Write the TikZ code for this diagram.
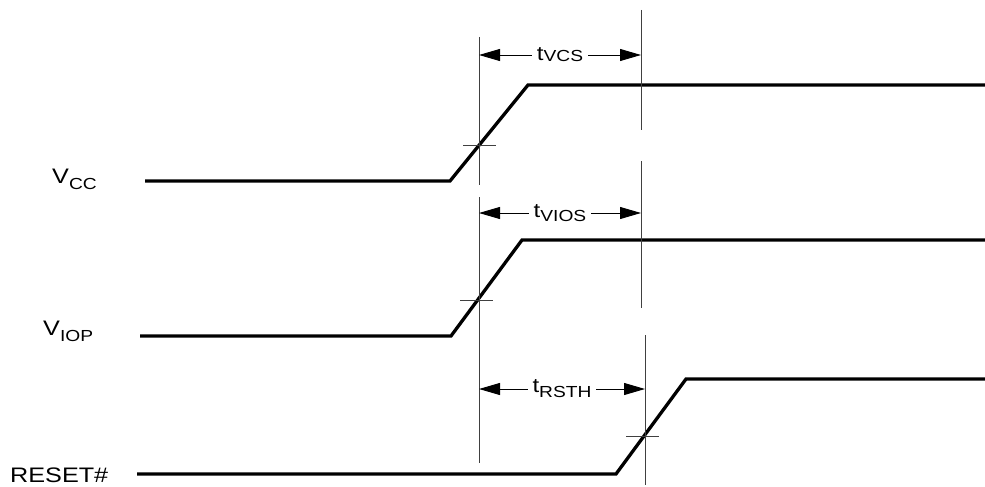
\documentclass[tikz,border=0pt]{standalone}
\usepackage{fontspec}
\setmainfont{Liberation Sans}[FakeStretch=1.2]
\usetikzlibrary{arrows.meta}

% signal name with a lowered, smaller subscript
\newcommand{\tsig}[3][4pt]{#2\raisebox{-#1}{\fontsize{16}{19}\selectfont #3}}

\tikzset{
  wave/.style={line width=3.3pt, line join=miter},
  guide/.style={line width=0.9pt, draw=black!75},
  tick/.style={line width=0.9pt, draw=black!75},
  dim/.style={line width=0.9pt, {Triangle[length=21pt,width=12pt]}-{Triangle[length=21pt,width=12pt]}},
  dimlabel/.style={fill=white, inner xsep=5pt, inner ysep=1pt, font=\fontsize{20}{24}\selectfont},
  signame/.style={anchor=base west, inner sep=0pt, font=\fontsize{21}{25}\selectfont},
}

\begin{document}
\begin{tikzpicture}[x=1pt,y=-1pt]
  \useasboundingbox[fill=white] (0,0) rectangle (985,487);

% signal names
  \node[signame] (vcc)   at (52,183)  {\tsig[6pt]{V}{CC}};
  \node[signame] (viop)  at (43,335)  {\tsig[6pt]{V}{IOP}};
  \node[signame] (reset) at (10,482)  {RESET\#};

% waveforms
  \draw[wave] (145,181) -- (450,181) -- (528,85)  -- (985,85);
  \draw[wave] (140,336) -- (451,336) -- (522,240) -- (985,240);
  \draw[wave] (137,474) -- (616,474) -- (686,379) -- (985,379);

% crossing marks
  \draw[tick] (463,145) -- (496,145);
  \draw[tick] (460,300) -- (493,300);
  \draw[tick] (626,436) -- (659,436);

% guide lines
  \draw[guide] (479,37)  -- (479,185);
  \draw[guide] (479,197) -- (479,463);
  \draw[guide] (641,10)  -- (641,130);
  \draw[guide] (641,161) -- (641,308);
  \draw[guide] (645,335) -- (645,485);

% timing arrows
  \coordinate (vcs1)  at (479,55);  \coordinate (vcs2)  at (641,55);
  \coordinate (vios1) at (479,213); \coordinate (vios2) at (641,213);
  \coordinate (rsth1) at (479,389); \coordinate (rsth2) at (645,389);
  \draw[dim] (vcs1)  -- node[dimlabel] (tvcs)  {\tsig[1pt]{t}{VCS}}  (vcs2);
  \draw[dim] (vios1) -- node[dimlabel] (tvios) {\tsig{t}{VIOS}} (vios2);
  \draw[dim] (rsth1) -- node[dimlabel] (trsth) {\tsig[5pt]{t}{RSTH}} (rsth2);

\end{tikzpicture}
\end{document}
